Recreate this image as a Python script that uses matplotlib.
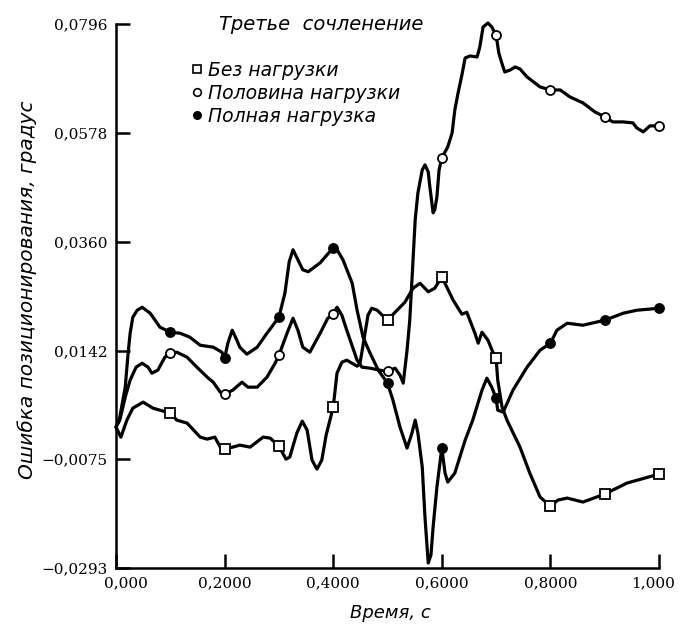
import numpy as np
import matplotlib
matplotlib.use("Agg")
import matplotlib.pyplot as plt
from matplotlib.lines import Line2D
import matplotlib.transforms as mtransforms

plt.rcParams['font.family'] = ['DejaVu Sans']

# ---------------- data ----------------
t_none = [0.0, 0.009, 0.020, 0.031, 0.050, 0.068, 0.1, 0.112, 0.131, 0.155, 0.168, 0.182, 0.192, 0.2,
          0.215, 0.228, 0.247, 0.271, 0.284, 0.3, 0.313, 0.320, 0.333, 0.343, 0.352, 0.361, 0.370, 0.379,
          0.387, 0.4, 0.407, 0.416, 0.425, 0.444, 0.449, 0.455, 0.464, 0.471, 0.481, 0.5, 0.514, 0.532,
          0.547, 0.560, 0.575, 0.587, 0.6, 0.621, 0.637, 0.646, 0.661, 0.667, 0.674, 0.685, 0.694, 0.7,
          0.703, 0.711, 0.720, 0.744, 0.762, 0.781, 0.8, 0.814, 0.831, 0.860, 0.9, 0.941, 1.0]
v_none = [-0.0011, -0.0031, 0.0003, 0.0027, 0.0039, 0.0027, 0.0017, 0.0003, -0.0003, -0.0031, -0.0035,
          -0.0031, -0.0051, -0.0055, -0.0051, -0.0047, -0.0051, -0.0031, -0.0033, -0.0049, -0.0075, -0.0071,
          -0.0023, 0.0001, -0.0017, -0.0077, -0.0095, -0.0077, -0.0027, 0.0029, 0.0097, 0.0119, 0.0123,
          0.0111, 0.0115, 0.0153, 0.0213, 0.0227, 0.0223, 0.0203, 0.0219, 0.0239, 0.0267, 0.0277, 0.0260,
          0.0267, 0.0290, 0.0243, 0.0215, 0.0219, 0.0177, 0.0157, 0.0179, 0.0163, 0.0139, 0.0127, 0.0083,
          0.0029, 0.0003, -0.0051, -0.0103, -0.0151, -0.0169, -0.0157, -0.0153, -0.0161, -0.0145, -0.0123,
          -0.0105]

t_half = [0.0, 0.007, 0.017, 0.026, 0.037, 0.048, 0.059, 0.066, 0.077, 0.090, 0.1, 0.112, 0.131, 0.149,
          0.168, 0.179, 0.192, 0.2, 0.215, 0.232, 0.243, 0.260, 0.278, 0.293, 0.3, 0.315, 0.326, 0.335,
          0.344, 0.357, 0.376, 0.390, 0.4, 0.407, 0.416, 0.425, 0.444, 0.453, 0.468, 0.486, 0.5, 0.514,
          0.523, 0.529, 0.536, 0.541, 0.545, 0.551, 0.556, 0.564, 0.569, 0.575, 0.578, 0.584, 0.587, 0.591,
          0.595, 0.6, 0.611, 0.619, 0.624, 0.630, 0.637, 0.643, 0.652, 0.665, 0.670, 0.676, 0.685, 0.692,
          0.7, 0.705, 0.711, 0.716, 0.726, 0.735, 0.744, 0.757, 0.781, 0.8, 0.818, 0.836, 0.860, 0.882,
          0.9, 0.915, 0.934, 0.952, 0.959, 0.971, 0.983, 1.0]
v_half = [-0.0011, 0.0003, 0.0049, 0.0083, 0.0109, 0.0117, 0.0109, 0.0097, 0.0103, 0.0129, 0.0137, 0.0139,
          0.0129, 0.0109, 0.0089, 0.0079, 0.0059, 0.0055, 0.0063, 0.0079, 0.0069, 0.0069, 0.0089, 0.0117,
          0.0133, 0.0177, 0.0207, 0.0183, 0.0149, 0.0139, 0.0177, 0.0207, 0.0215, 0.0229, 0.0213, 0.0183,
          0.0123, 0.0109, 0.0107, 0.0103, 0.0101, 0.0107, 0.0093, 0.0077, 0.0143, 0.0203, 0.0283, 0.0404,
          0.0458, 0.0504, 0.0514, 0.0500, 0.0470, 0.0418, 0.0424, 0.0450, 0.0504, 0.0528, 0.0550, 0.0578,
          0.0624, 0.0658, 0.0694, 0.0728, 0.0732, 0.0730, 0.0750, 0.0790, 0.0798, 0.0790, 0.0774, 0.0738,
          0.0716, 0.0700, 0.0704, 0.0710, 0.0706, 0.0690, 0.0670, 0.0664, 0.0664, 0.0650, 0.0638, 0.0620,
          0.0610, 0.0600, 0.0600, 0.0598, 0.0588, 0.0580, 0.0592, 0.0592]

t_full = [0.0, 0.007, 0.017, 0.022, 0.026, 0.031, 0.039, 0.048, 0.063, 0.081, 0.1, 0.118, 0.136, 0.155,
          0.179, 0.195, 0.2, 0.206, 0.214, 0.221, 0.228, 0.241, 0.260, 0.278, 0.3, 0.311, 0.319, 0.326,
          0.335, 0.344, 0.354, 0.376, 0.4, 0.403, 0.418, 0.435, 0.444, 0.455, 0.468, 0.483, 0.5, 0.510,
          0.523, 0.536, 0.545, 0.551, 0.556, 0.564, 0.569, 0.575, 0.580, 0.584, 0.591, 0.6, 0.606, 0.611,
          0.624, 0.643, 0.657, 0.674, 0.683, 0.692, 0.7, 0.703, 0.713, 0.731, 0.757, 0.781, 0.8, 0.812,
          0.831, 0.860, 0.9, 0.934, 0.959, 1.0]
v_full = [-0.0011, 0.0009, 0.0069, 0.0133, 0.0177, 0.0209, 0.0223, 0.0229, 0.0217, 0.0189, 0.0179, 0.0177,
          0.0169, 0.0153, 0.0149, 0.0139, 0.0127, 0.0157, 0.0183, 0.0167, 0.0149, 0.0135, 0.0149, 0.0177,
          0.0209, 0.0257, 0.0320, 0.0344, 0.0324, 0.0304, 0.0300, 0.0318, 0.0348, 0.0352, 0.0324, 0.0277,
          0.0223, 0.0169, 0.0137, 0.0103, 0.0077, 0.0043, -0.0011, -0.0053, -0.0023, 0.0003, -0.0023,
          -0.0091, -0.0191, -0.0283, -0.0267, -0.0211, -0.0131, -0.0053, -0.0103, -0.0121, -0.0103,
          -0.0037, 0.0003, 0.0063, 0.0087, 0.0069, 0.0047, 0.0023, 0.0019, 0.0063, 0.0109, 0.0143, 0.0157,
          0.0183, 0.0197, 0.0193, 0.0203, 0.0217, 0.0223, 0.0227]

marker_times = [0.1, 0.2, 0.3, 0.4, 0.5, 0.6, 0.7, 0.8, 0.9, 1.0]

labels = ['Без нагрузки', 'Половина нагрузки', 'Полная нагрузка']
title_text = 'Третье  сочленение'
xlabel_text = 'Время, с'
ylabel_text = 'Ошибка позиционирования, градус'

x_ticks = [0.0, 0.2, 0.4, 0.6, 0.8, 1.0]
x_ticklabels = ['0,000', '0,2000', '0,4000', '0,6000', '0,8000', '1,000']
y_ticks = [-0.0293, -0.0075, 0.0142, 0.0360, 0.0578, 0.0796]
y_ticklabels = ['\u22120,0293', '\u22120,0075', '0,0142', '0,0360', '0,0578', '0,0796']

# ---------------- figure ----------------
fig = plt.figure(figsize=(6.8, 6.26), dpi=100)
ax = fig.add_axes([116/680, 1-568/626, (659-116)/680, (568-24)/626])

def mk_idx(t):
    t = np.asarray(t)
    return [int(np.argmin(np.abs(t - m))) for m in marker_times]

common = dict(color='black', lw=2.3, solid_joinstyle='round', solid_capstyle='round', clip_on=False,
              markersize=6.5, markeredgewidth=1.3, zorder=3)
ax.plot(t_none, v_none, marker='s', markerfacecolor='white', markevery=mk_idx(t_none), **common)
ax.plot(t_half, v_half, marker='o', markerfacecolor='white', markevery=mk_idx(t_half), **common)
ax.plot(t_full, v_full, marker='o', markerfacecolor='black', markevery=mk_idx(t_full), **common)

ax.set_xlim(0, 1.0)
ax.set_ylim(-0.0293, 0.0796)
for s in ['top', 'right']:
    ax.spines[s].set_visible(False)
for s in ['left', 'bottom']:
    ax.spines[s].set_linewidth(1.8)

ax.set_xticks(x_ticks)
ax.set_xticklabels(x_ticklabels, family='DejaVu Serif', fontsize=11)
ax.set_yticks(y_ticks)
ax.set_yticklabels(y_ticklabels, family='DejaVu Serif', fontsize=11)
ax.tick_params(axis='both', direction='in', length=10, width=1.8)
ax.tick_params(axis='x', pad=6)
ax.tick_params(axis='y', pad=6)

xl = ax.get_xticklabels()
xl[0].set_transform(xl[0].get_transform() + mtransforms.ScaledTranslation(10/100, 0, fig.dpi_scale_trans))
xl[-1].set_transform(xl[-1].get_transform() + mtransforms.ScaledTranslation(-6/100, 0, fig.dpi_scale_trans))

fig.text(321/680, 1-25/626, title_text, ha='center', va='center', style='italic', fontsize=14)
fig.text(390/680, 1-613/626, xlabel_text, ha='center', va='center', style='italic', fontsize=13)
fig.text(27/680, 1-290/626, ylabel_text, ha='center', va='center', rotation=90, style='italic', fontsize=14.5)

handles = [Line2D([], [], ls='none', marker='s', color='black', markerfacecolor='white', markersize=5.5, markeredgewidth=1.2),
           Line2D([], [], ls='none', marker='o', color='black', markerfacecolor='white', markersize=5.5, markeredgewidth=1.2),
           Line2D([], [], ls='none', marker='o', color='black', markerfacecolor='black', markersize=5.5)]
ax.legend(handles, labels, loc='upper left', bbox_to_anchor=(191/680, 1-61/626), bbox_transform=fig.transFigure,
          frameon=False, handlelength=0.6, handletextpad=0.3, labelspacing=0.2, borderpad=0, borderaxespad=0,
          prop={'style': 'italic', 'size': 13.5})

fig.savefig('out.png', dpi=100)
